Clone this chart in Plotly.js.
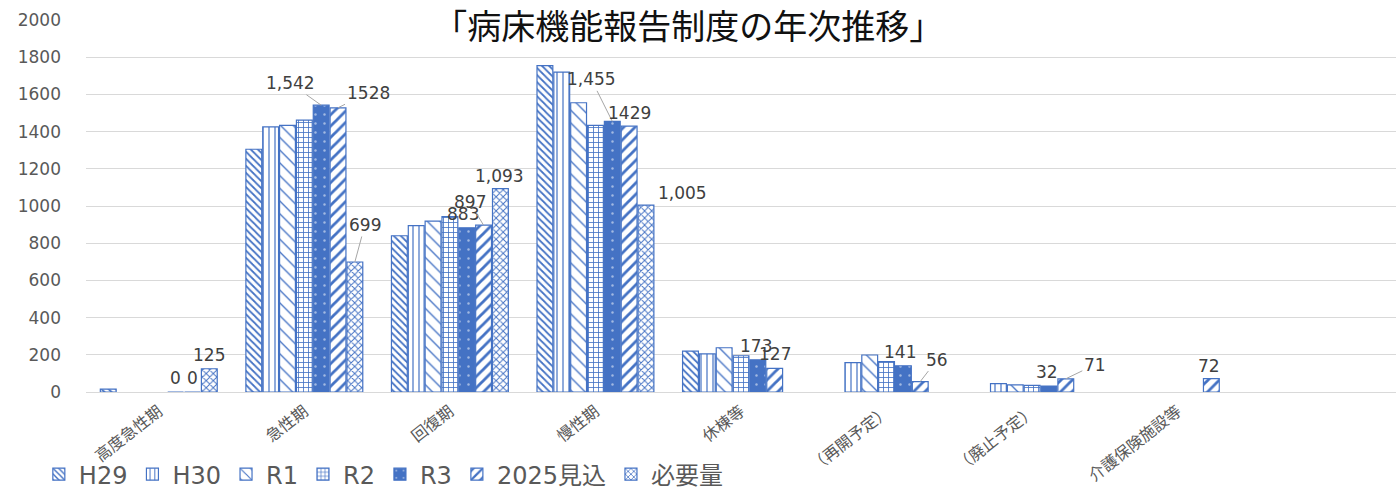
<!DOCTYPE html>
<html><head><meta charset="utf-8">
<script src="https://cdn.plot.ly/plotly-3.0.1.min.js"></script>
<style>html,body{margin:0;padding:0;background:#fff}#c{width:1396px;height:493px}</style>
</head><body><div id="c"></div>
<script>
const categories = ['高度急性期','急性期','回復期','慢性期','休棟等','（再開予定）','（廃止予定）','介護保険施設等'];
const seriesNames = ['H29','H30','R1','R2','R3','2025見込','必要量'];
const H29  = [15, 1305, 840, 1755, 220, null, null, null];
const H30  = [null, 1425, 895, 1720, 205, 158, 45, null];
const R1   = [null, 1433, 919, 1555, 238, 199, 38, null];
const R2   = [null, 1462, 943, 1434, 195, 163, 36, null];
const R3   = [0, 1542, 883, 1455, 173, 141, 32, null];
const Y2025= [0, 1528, 897, 1429, 127, 56, 71, 72];
const NEED = [125, 699, 1093, 1005, null, null, null, null];
const R3Labels   = ['0','1,542','883','1,455','173','141','32',null];
const Y2025Labels= ['0','1528','897','1429','127','56','71','72'];
const NEEDLabels = ['125','699','1,093','1,005',null,null,null,null];
const yTicks = [0,200,400,600,800,1000,1200,1400,1600,1800,2000];

const values = [H29,H30,R1,R2,R3,Y2025,NEED];
const blue = '#4472C4';
const numFont = 'DejaVu Sans, Noto Sans CJK JP, sans-serif';
const patterns = [
  {shape:'\\', size:5, solidity:0.35, fgcolor:blue, bgcolor:'#fff'},
  {shape:'|', size:6, solidity:0.2, fgcolor:blue, bgcolor:'#fff'},
  {shape:'\\', size:9, solidity:0.15, fgcolor:blue, bgcolor:'#fff'},
  {shape:'+', size:5, solidity:0.3, fgcolor:blue, bgcolor:'#fff'},
  {shape:'.', size:9, solidity:0.06, fgcolor:'#fff', fillmode:'overlay'},
  {shape:'/', size:8, solidity:0.35, fgcolor:blue, bgcolor:'#fff'},
  {shape:'x', size:5, solidity:0.35, fgcolor:blue, bgcolor:'#fff'}
];
const traces = values.map((v,k)=>({
  type:'bar', name:seriesNames[k], x:categories, y:v,
  marker:{color: k===4 ? blue : '#fff', line:{color:blue, width:1.2}, pattern:patterns[k]},
  hoverinfo:'skip'
}));

const bargap = 0.19, nSeries = 7;
const unit = (1-bargap)/nSeries;
// label offsets [dx, dy, leader]
const labelSets = [
  {k:4, labels:R3Labels, off:[[0,-14,0],[-31,-22,1],[-4,-14,0],[-21,-42,1],[-2,-14,0],[-3,-14,0],[-2,-14,0],[0,0,0]]},
  {k:5, labels:Y2025Labels, off:[[0,-14,0],[30,-15,1],[-14,-23,1],[0,-13,0],[0,-14,0],[17,-22,1],[29,-14,1],[-2,-13,0]]},
  {k:6, labels:NEEDLabels, off:[[0,-14,0],[10,-37,1],[-1,-13,0],[37,-12,0],[0,0,0],[0,0,0],[0,0,0],[0,0,0]]}
];
const annotations = [];
labelSets.forEach(s=>{
  s.labels.forEach((t,i)=>{
    if(t===null) return;
    const o = s.off[i];
    const a = {x: i + (s.k-3)*unit, y: values[s.k][i], xref:'x', yref:'y', text:t,
      font:{family:numFont, size:17, color:'#404040'}};
    if(o[2]){ Object.assign(a,{showarrow:true, arrowhead:0, arrowwidth:1, arrowcolor:'#a6a6a6', ax:o[0], ay:o[1], standoff:0}); }
    else { Object.assign(a,{showarrow:false, xshift:o[0], yshift:-o[1]}); }
    annotations.push(a);
  });
});

const layout = {
  width:1396, height:493,
  margin:{l:86, r:0, t:20, b:101, autoexpand:false},
  paper_bgcolor:'#fff', plot_bgcolor:'#fff',
  barmode:'group', bargap:bargap, bargroupgap:0.06,
  title:{text:'「病床機能報告制度の年次推移」', font:{family:'Noto Sans CJK JP, sans-serif', size:34, color:'#111'},
    xref:'container', yref:'container', x:0.493, y:0.946, xanchor:'center', yanchor:'middle'},
  xaxis:{type:'category', range:[-0.5, 8.5], tickangle:-38, automargin:false, showgrid:false, showline:false, zeroline:false,
    ticks:'', ticklabelstandoff:6, tickfont:{family:'Noto Sans CJK JP, sans-serif', size:16, color:'#595959'}},
  yaxis:{range:[0,2000], tickvals:yTicks, ticktext:yTicks.map(String), automargin:false, gridcolor:'#d9d9d9', gridwidth:1,
    zeroline:true, zerolinecolor:'#d9d9d9', showline:false, ticks:'', ticklabelstandoff:24,
    tickfont:{family:numFont, size:17, color:'#595959'}},
  legend:{orientation:'h', x:-0.036, y:-0.222, xanchor:'left', yanchor:'middle',
    font:{family:numFont, size:24, color:'#595959'}, traceorder:'normal', bgcolor:'rgba(0,0,0,0)'},
  annotations:annotations,
  showlegend:true
};
Plotly.newPlot('c', traces, layout, {staticPlot:true});
</script></body></html>
